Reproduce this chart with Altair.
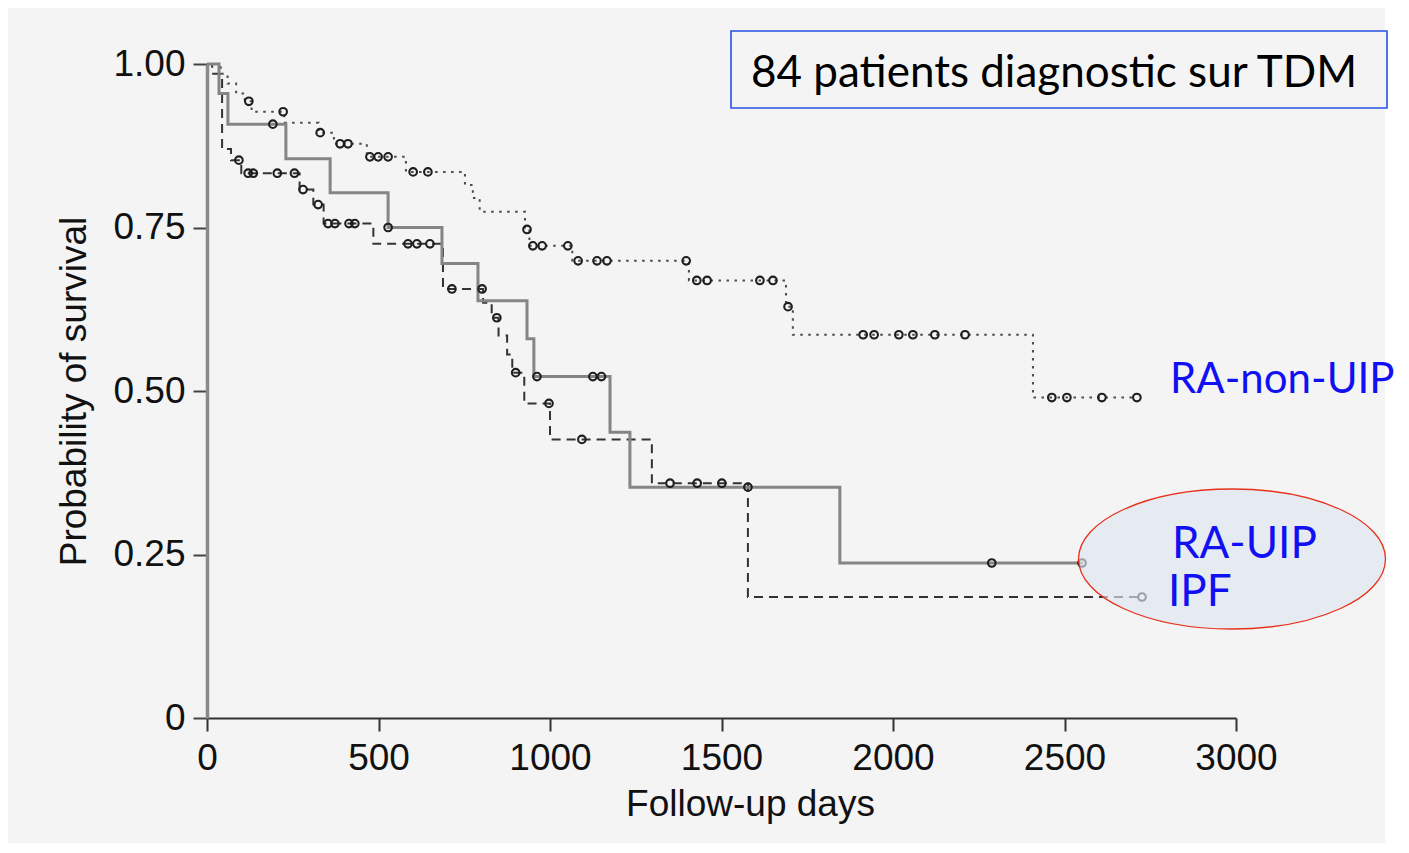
import altair as alt
import pandas as pd

# ---------------- data ----------------
# RA-UIP (solid grey)
uip_t = [0, 35, 61, 230, 359, 528, 685, 790, 933, 953, 1175, 1233, 1845, 2554]
uip_s = [1.0, 0.955, 0.908, 0.855, 0.803, 0.750, 0.695, 0.638, 0.580, 0.522, 0.437, 0.353, 0.237, 0.237]
uip_ct = [192, 528, 962, 1125, 1150, 1577, 2288, 2551]
uip_cs = [0.908, 0.750, 0.522, 0.522, 0.522, 0.353, 0.237, 0.237]

# IPF (dashed)
ipf_t = [0, 15, 44, 70, 100, 270, 310, 340, 485, 688, 805, 830, 850, 875, 890, 925, 1000, 1297, 1577, 2726]
ipf_s = [1.0, 0.985, 0.870, 0.853, 0.833, 0.808, 0.785, 0.756, 0.725, 0.656, 0.635, 0.612, 0.585, 0.556,
         0.528, 0.481, 0.426, 0.359, 0.185, 0.185]
ipf_ct = [93, 120, 135, 205, 255, 280, 324, 353, 373, 414, 431, 586, 612, 650, 714, 802, 845, 900, 997,
          1093, 1350, 1429, 1501, 2726]
ipf_cs = [0.853, 0.833, 0.833, 0.833, 0.833, 0.808, 0.785, 0.756, 0.756, 0.756, 0.756, 0.725, 0.725, 0.725,
          0.656, 0.656, 0.612, 0.528, 0.481, 0.426, 0.359, 0.359, 0.359, 0.185]

# RA-non-UIP (dotted)
non_t = [0, 40, 60, 85, 110, 130, 225, 325, 370, 466, 580, 752, 775, 795, 927, 940, 1065, 1405, 1688, 1708,
         2408, 2711]
non_s = [1.0, 0.985, 0.970, 0.955, 0.943, 0.927, 0.910, 0.895, 0.878, 0.858, 0.835, 0.815, 0.795, 0.774,
         0.747, 0.722, 0.699, 0.669, 0.629, 0.586, 0.490, 0.490]
non_ct = [122, 222, 330, 388, 411, 475, 499, 528, 601, 644, 933, 950, 977, 1052, 1082, 1137, 1166, 1397,
          1428, 1458, 1612, 1650, 1694, 1913, 1945, 2017, 2058, 2122, 2210, 2463, 2507, 2609, 2711]
non_cs = [0.943, 0.927, 0.895, 0.878, 0.878, 0.858, 0.858, 0.858, 0.835, 0.835, 0.747, 0.722, 0.722, 0.722,
          0.699, 0.699, 0.699, 0.699, 0.669, 0.669, 0.669, 0.669, 0.629, 0.586, 0.586, 0.586, 0.586, 0.586,
          0.586, 0.490, 0.490, 0.490, 0.490]

x_ticks = [0, 500, 1000, 1500, 2000, 2500, 3000]
y_ticks = [0, 0.25, 0.5, 0.75, 1.0]

box_text = "84 patients diagnostic sur TDM"
labels = ["RA-non-UIP", "RA-UIP", "IPF"]

# ---------------- chart ----------------
AXFONT = "Liberation Sans"
x_scale = alt.Scale(domain=[0, 3000], nice=False, zero=False)
y_scale = alt.Scale(domain=[0, 1], nice=False, zero=False)

x_axis = alt.Axis(values=x_ticks, format="d", title="Follow-up days", grid=False, labelFont=AXFONT,
                  labelFontSize=37, labelColor="#111111", labelPadding=9, tickSize=13, tickWidth=2,
                  tickColor="#333333", domainColor="#333333", domainWidth=2, titleFont=AXFONT,
                  titleFontSize=37, titleFontWeight="normal", titleColor="#111111", titleX=543, titleY=97,
                  titleBaseline="alphabetic", titleAlign="center", labelFlush=False)
y_axis = alt.Axis(values=y_ticks, title="Probability of survival", grid=False, labelFont=AXFONT,
                  labelFontSize=37, labelColor="#111111", labelPadding=8, tickSize=14, tickWidth=2,
                  tickColor="#444444", domainColor="#8a8a8a", domainWidth=3.5, titleFont=AXFONT,
                  titleFontSize=37, titleFontWeight="normal", titleColor="#111111", titleAngle=270,
                  titleX=-122, titleY=327, titleAlign="center", titleBaseline="alphabetic",
                  labelExpr="datum.value == 0 ? '0' : format(datum.value, '.2f')", labelFlush=False)

X = alt.X("t:Q", scale=x_scale, axis=x_axis)
Y = alt.Y("s:Q", scale=y_scale, axis=y_axis)


def curve(t, s, color, width, dash=None):
    df = pd.DataFrame({"t": t, "s": s})
    kw = dict(interpolate="step-after", color=color, strokeWidth=width, strokeCap="butt")
    if dash:
        kw["strokeDash"] = dash
    return alt.Chart(df).mark_line(**kw).encode(x=X, y=Y, order="t:Q")


def censor(t, s):
    df = pd.DataFrame({"t": t, "s": s})
    return alt.Chart(df).mark_point(shape="circle", size=58, filled=False, stroke="#1e1e1e",
                                    strokeWidth=2.1, opacity=1).encode(x=X, y=Y)


one = pd.DataFrame({"k": [0]})

strip = alt.Chart(one).mark_rect(color="white").encode(
    x=alt.value(1178), x2=alt.value(1200), y=alt.value(-60), y2=alt.value(800))

box = alt.Chart(one).mark_rect(fill="#f4f4f4", stroke="#2a50e6", strokeWidth=1.6).encode(
    x=alt.value(524), x2=alt.value(1180), y=alt.value(-33), y2=alt.value(44))
box_txt = alt.Chart(pd.DataFrame({"txt": [box_text]})).mark_text(
    align="left", baseline="alphabetic", font="Lato", fontSize=44, color="#000000").encode(
    x=alt.value(544), y=alt.value(23), text="txt:N")

ell_path = ("M -1 0 C -1 -0.2518 -0.5523 -0.456 0 -0.456 C 0.5523 -0.456 1 -0.2518 1 0 "
            "C 1 0.2518 0.5523 0.456 0 0.456 C -0.5523 0.456 -1 0.2518 -1 0 Z")
ellipse = alt.Chart(one).mark_point(shape=ell_path, size=307 * 307, filled=True, fill="#dfe6ef",
                                    fillOpacity=0.65, stroke="#e8301c", strokeWidth=1.3,
                                    strokeOpacity=1, opacity=1).encode(
    x=alt.value(1025), y=alt.value(495))

lab_df = pd.DataFrame({"txt": labels, "px": [963, 965, 961], "py": [329, 494, 542],
                       "fs": [42, 44, 44]})
lab = alt.Chart(lab_df).mark_text(align="left", baseline="alphabetic", font="Lato",
                                  color="#1010f2").encode(
    x=alt.X("px:Q", scale=None), y=alt.Y("py:Q", scale=None), text="txt:N",
    size=alt.Size("fs:Q", scale=None, legend=None))

chart = alt.layer(
    strip,
    box,
    box_txt,
    curve(non_t, non_s, "#4a4a4a", 2, [2.5, 5.5]),
    curve(ipf_t, ipf_s, "#333333", 2, [9, 6]),
    curve(uip_t, uip_s, "#858585", 3),
    censor(non_ct, non_cs),
    censor(ipf_ct, ipf_cs),
    censor(uip_ct, uip_cs),
    ellipse,
    lab,
).properties(
    width=1029, height=654,
    padding={"left": 199, "top": 56, "right": 165, "bottom": 125},
    autosize=alt.AutoSizeParams(type="none"),
    background="#f4f4f4",
).configure_view(stroke=None)

chart.save("out.html", embed_options={"renderer": "svg", "actions": False})
